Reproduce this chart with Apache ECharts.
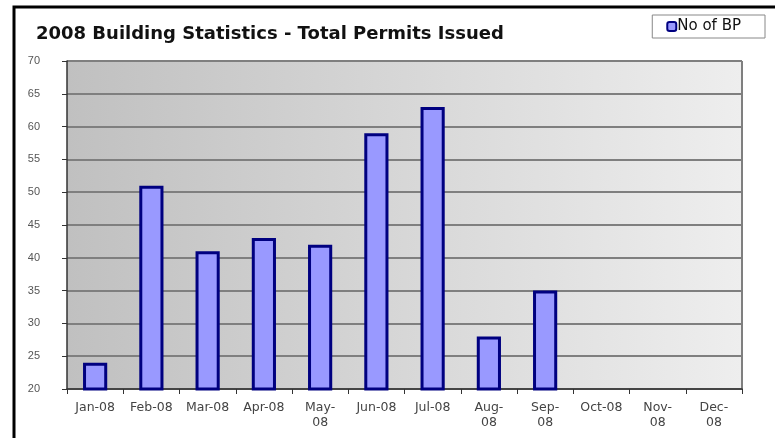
<!DOCTYPE html>
<html>
<head>
<meta charset="utf-8">
<script src="https://cdn.jsdelivr.net/npm/echarts@6/dist/echarts.min.js"></script>
<style>
    html, body { margin: 0; padding: 0; background: #fff; }
    #chart { width: 775px; height: 438px; }
</style>
</head>
<body>
<div id="chart"></div>
<script>
    // 月份和对应的许可证数量
    var months = ['Jan-08', 'Feb-08', 'Mar-08', 'Apr-08', 'May-08', 'Jun-08',
                  'Jul-08', 'Aug-08', 'Sep-08', 'Oct-08', 'Nov-08', 'Dec-08'];
    var monthLabels = ['Jan-08', 'Feb-08', 'Mar-08', 'Apr-08', 'May-\n08', 'Jun-08',
                       'Jul-08', 'Aug-\n08', 'Sep-\n08', 'Oct-08', 'Nov-\n08', 'Dec-\n08'];
    var permits = [24, 51, 41, 43, 42, 59, 63, 28, 35, null, null, null];
    var seriesName = 'No of BP';

    var myChart = echarts.init(document.getElementById('chart'));
    var option = {
        animation: false,
        title: {
            text: '2008 Building Statistics - Total Permits Issued',
            left: 31,
            top: 20,
            textStyle: {
                fontFamily: 'DejaVu Sans',
                fontSize: 18,
                fontWeight: 'bold',
                color: '#111'
            }
        },
        legend: {
            data: [seriesName],
            right: 10,
            top: 15,
            padding: [4, 24, 4, 14],
            borderColor: '#888',
            borderWidth: 1,
            itemWidth: 9,
            itemHeight: 9,
            textStyle: {
                fontFamily: 'DejaVu Sans',
                fontSize: 15,
                color: '#111',
                padding: [0, 0, 0, -4]
            }
        },
        grid: {
            left: 67,
            right: 33,
            top: 61,
            bottom: 49,
            show: true,
            borderWidth: 0,
            backgroundColor: new echarts.graphic.LinearGradient(0, 0, 1, 0, [
                { offset: 0, color: '#c0c0c0' },
                { offset: 1, color: '#eeeeee' }
            ])
        },
        xAxis: {
            type: 'category',
            data: months,
            axisLine: { lineStyle: { color: '#333', width: 1.5 } },
            axisTick: { show: true, length: 5, lineStyle: { color: '#333' } },
            axisLabel: {
                interval: 0,
                margin: 11,
                fontFamily: 'DejaVu Sans',
                fontSize: 12.5,
                lineHeight: 15,
                color: '#444',
                formatter: function (v, i) { return monthLabels[i]; }
            }
        },
        yAxis: {
            type: 'value',
            min: 20,
            max: 70,
            interval: 5,
            axisLine: { show: true, lineStyle: { color: '#333', width: 1.5 } },
            axisTick: { show: true, length: 5, lineStyle: { color: '#333' } },
            splitLine: { lineStyle: { color: '#7f7f7f', width: 2 } },
            axisLabel: {
                margin: 27,
                fontFamily: 'Liberation Sans',
                fontSize: 11,
                color: '#555'
            }
        },
        series: [{
            name: seriesName,
            type: 'bar',
            data: permits,
            barWidth: '43%',
            itemStyle: {
                color: '#9999ff',
                borderColor: '#000080',
                borderWidth: 3
            }
        }],
        // 外框
        graphic: [{
            type: 'polyline',
            shape: { points: [[14, 438], [14, 7], [775, 7]] },
            style: { stroke: '#000', lineWidth: 3, fill: null }
        }, {
            type: 'line',
            shape: { x1: 742, y1: 61, x2: 742, y2: 389 },
            style: { stroke: '#7f7f7f', lineWidth: 2 }
        }]
    };
    myChart.setOption(option);
</script>
</body>
</html>
